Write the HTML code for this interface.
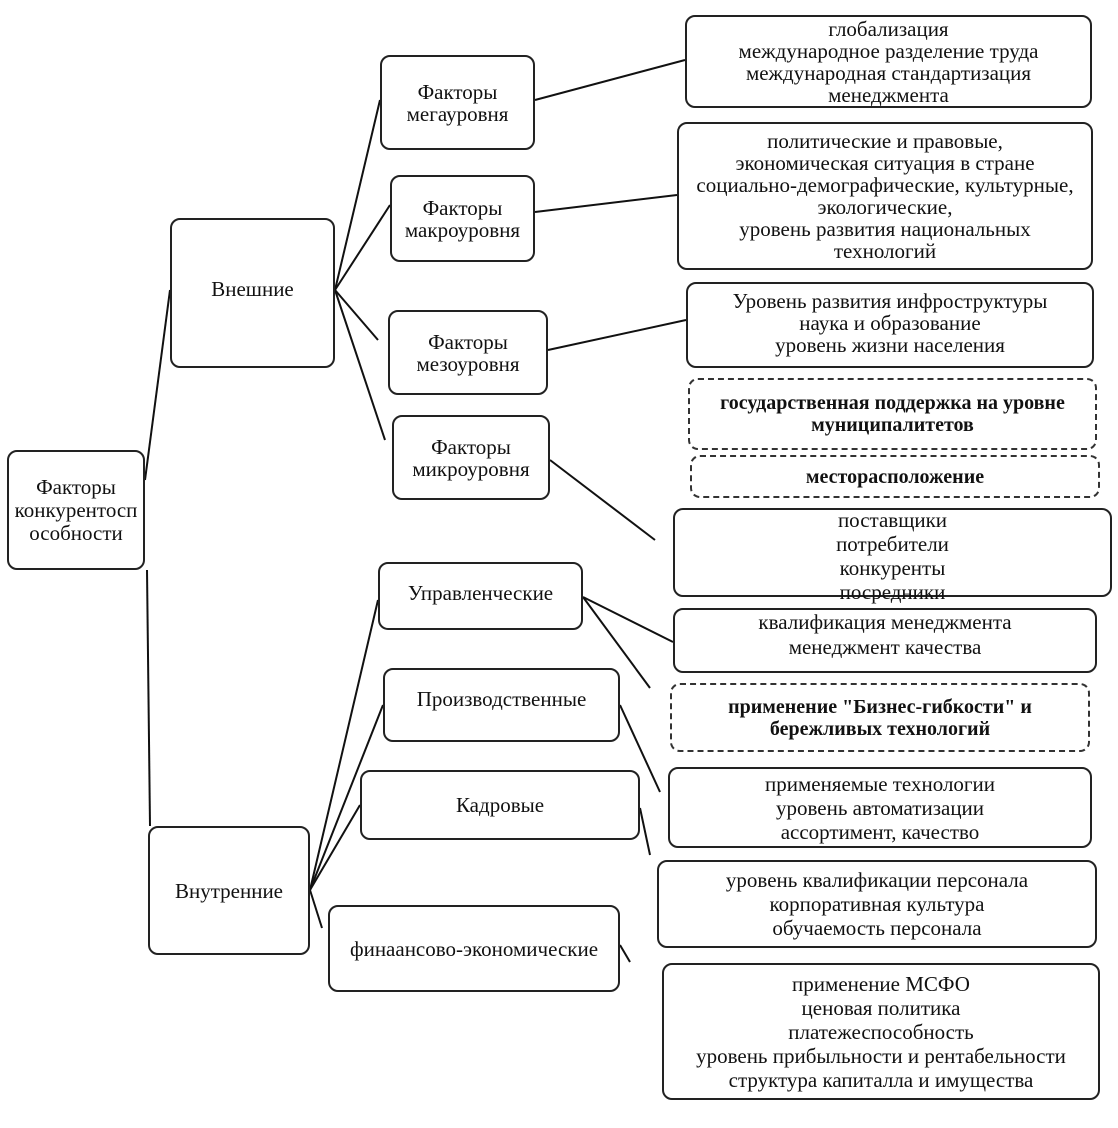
<!DOCTYPE html>
<html><head><meta charset="utf-8"><style>
body{margin:0;width:1118px;height:1128px;background:#fff;position:relative;overflow:hidden;font-family:"Liberation Serif","DejaVu Serif",serif;font-size:21px;color:#111;}
.b{position:absolute;box-sizing:border-box;border:2px solid #222;border-radius:10px;display:flex;align-items:center;justify-content:center;text-align:center;line-height:22px;background:#fff;white-space:nowrap;}
.d{border:2px dashed #333;font-weight:bold;font-size:20px;}
svg{position:absolute;left:0;top:0;}
</style></head><body>
<svg width="1118" height="1128"><g stroke="#111" stroke-width="2" fill="none">
<line x1="145" y1="480" x2="170" y2="290"/>
<line x1="147" y1="570" x2="150" y2="826"/>
<line x1="335" y1="290" x2="380" y2="100"/>
<line x1="335" y1="290" x2="390" y2="205"/>
<line x1="335" y1="290" x2="378" y2="340"/>
<line x1="335" y1="290" x2="385" y2="440"/>
<line x1="535" y1="100" x2="685" y2="60"/>
<line x1="535" y1="212" x2="677" y2="195"/>
<line x1="548" y1="350" x2="686" y2="320"/>
<line x1="550" y1="460" x2="655" y2="540"/>
<line x1="310" y1="890" x2="378" y2="600"/>
<line x1="310" y1="890" x2="383" y2="705"/>
<line x1="310" y1="890" x2="360" y2="805"/>
<line x1="310" y1="890" x2="322" y2="928"/>
<line x1="583" y1="597" x2="673" y2="642"/>
<line x1="583" y1="597" x2="650" y2="688"/>
<line x1="620" y1="705" x2="660" y2="792"/>
<line x1="640" y1="808" x2="650" y2="855"/>
<line x1="620" y1="945" x2="630" y2="962"/>
</g></svg>
<div class="b" style="left:7px;top:450px;width:138px;height:120px;line-height:23px">Факторы<br>конкурентосп<br>особности</div>
<div class="b" style="left:170px;top:218px;width:165px;height:150px;padding-bottom:8px">Внешние</div>
<div class="b" style="left:380px;top:55px;width:155px;height:95px;">Факторы<br>мегауровня</div>
<div class="b" style="left:390px;top:175px;width:145px;height:87px;">Факторы<br>макроуровня</div>
<div class="b" style="left:388px;top:310px;width:160px;height:85px;">Факторы<br>мезоуровня</div>
<div class="b" style="left:392px;top:415px;width:158px;height:85px;">Факторы<br>микроуровня</div>
<div class="b" style="left:685px;top:15px;width:407px;height:93px;">глобализация<br>международное разделение труда<br>международная стандартизация<br>менеджмента</div>
<div class="b" style="left:677px;top:122px;width:416px;height:148px;">политические  и правовые,<br>экономическая ситуация  в стране<br>социально-демографические, культурные,<br>экологические,<br>уровень развития  национальных<br>технологий</div>
<div class="b" style="left:686px;top:282px;width:408px;height:86px;align-items:flex-start;padding-top:6px">Уровень развития  инфроструктуры<br>наука  и образование<br>уровень жизни  населения</div>
<div class="b d" style="left:688px;top:378px;width:409px;height:72px;">государственная поддержка на уровне<br>муниципалитетов</div>
<div class="b d" style="left:690px;top:455px;width:410px;height:43px;">месторасположение</div>
<div class="b" style="left:673px;top:508px;width:439px;height:89px;line-height:24px;align-items:flex-start;padding-top:0;overflow:visible"><div style="margin-top:-2px">поставщики<br>потребители<br>конкуренты<br>посредники</div></div>
<div class="b" style="left:673px;top:608px;width:424px;height:65px;line-height:25px;align-items:flex-start;padding-top:0">квалификация  менеджмента<br>менеджмент качества</div>
<div class="b d" style="left:670px;top:683px;width:420px;height:69px;">применение "Бизнес-гибкости" и<br>бережливых технологий</div>
<div class="b" style="left:668px;top:767px;width:424px;height:81px;line-height:24px">применяемые технологии<br>уровень автоматизации<br>ассортимент, качество</div>
<div class="b" style="left:657px;top:860px;width:440px;height:88px;line-height:24px">уровень квалификации  персонала<br>корпоративная  культура<br>обучаемость персонала</div>
<div class="b" style="left:662px;top:963px;width:438px;height:137px;line-height:24px">применение  МСФО<br>ценовая политика<br>платежеспособность<br>уровень прибыльности  и рентабельности<br>структура  капиталла  и имущества</div>
<div class="b" style="left:148px;top:826px;width:162px;height:129px;">Внутренние</div>
<div class="b" style="left:378px;top:562px;width:205px;height:68px;padding-bottom:6px">Управленческие</div>
<div class="b" style="left:383px;top:668px;width:237px;height:74px;padding-bottom:12px">Производственные</div>
<div class="b" style="left:360px;top:770px;width:280px;height:70px;">Кадровые</div>
<div class="b" style="left:328px;top:905px;width:292px;height:87px;">финаансово-экономические</div>
</body></html>
